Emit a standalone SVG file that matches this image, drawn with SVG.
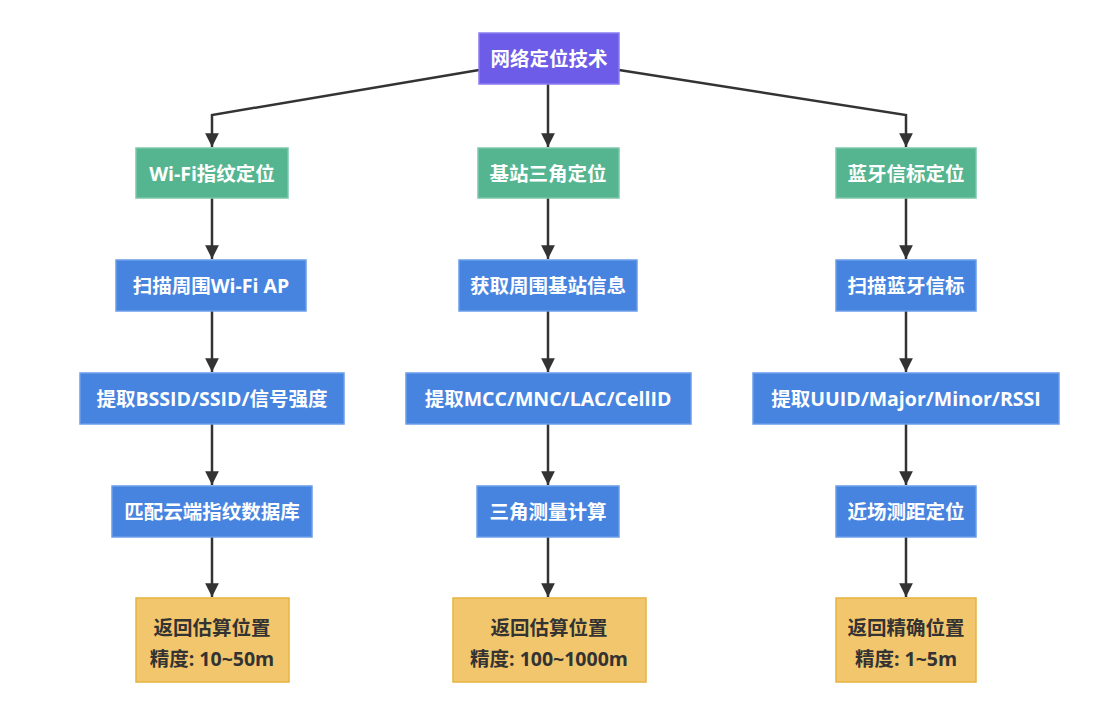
<svg xmlns="http://www.w3.org/2000/svg" width="1116" height="719" viewBox="0 0 1116 719">
<style>
.n rect{stroke-width:1.5}
.p{fill:#6c5ce7;stroke:#8a7cf0}
.g{fill:#56b591;stroke:#7cc7a9}
.b{fill:#4784e0;stroke:#6a9de8}
.o{fill:#f2c66c;stroke:#e5b43f}
text{font-family:"Open Sans","Noto Sans CJK SC",sans-serif;font-weight:bold;font-size:19.5px;text-anchor:middle;dominant-baseline:central}
.w{fill:#fff}.d{fill:#333}
.c path{fill:none;stroke:#333;stroke-width:2.5}
</style>
<defs><marker id="a" viewBox="0 0 10 10" refX="10" refY="5" markerWidth="5.5" markerHeight="5.5" orient="auto"><path d="M0,0L10,5L0,10z" fill="#333"/></marker></defs>
<rect width="1116" height="719" fill="#fff"/>
<g class="c">
<path d="M479,70L212,115L212,147" marker-end="url(#a)"/>
<path d="M548,84L548,147" marker-end="url(#a)"/>
<path d="M619,70L906,115L906,147" marker-end="url(#a)"/>
<path d="M212,198V259" marker-end="url(#a)"/><path d="M212,311V372" marker-end="url(#a)"/><path d="M212,424V485" marker-end="url(#a)"/><path d="M212,537V597" marker-end="url(#a)"/>
<path d="M548,198V259" marker-end="url(#a)"/><path d="M548,311V372" marker-end="url(#a)"/><path d="M548,424V485" marker-end="url(#a)"/><path d="M548,537V597" marker-end="url(#a)"/>
<path d="M906,198V259" marker-end="url(#a)"/><path d="M906,311V372" marker-end="url(#a)"/><path d="M906,424V485" marker-end="url(#a)"/><path d="M906,537V597" marker-end="url(#a)"/>
</g>
<g id="root" class="n"><rect class="p" x="479" y="33" width="140" height="51"/><text class="w" x="549" y="58">网络定位技术</text></g>
<g id="wifi" class="n"><rect class="g" x="136" y="148" width="152" height="50"/><text class="w" x="212" y="173">Wi-Fi指纹定位</text></g>
<g id="cell" class="n"><rect class="g" x="478" y="148" width="141" height="50"/><text class="w" x="548" y="173">基站三角定位</text></g>
<g id="ble" class="n"><rect class="g" x="836" y="148" width="140" height="50"/><text class="w" x="906" y="173">蓝牙信标定位</text></g>
<g id="w1" class="n"><rect class="b" x="116" y="260" width="190" height="51"/><text class="w" x="211" y="285">扫描周围Wi-Fi AP</text></g>
<g id="c1" class="n"><rect class="b" x="459" y="260" width="178" height="51"/><text class="w" x="548" y="285">获取周围基站信息</text></g>
<g id="b1" class="n"><rect class="b" x="836" y="260" width="140" height="51"/><text class="w" x="906" y="285">扫描蓝牙信标</text></g>
<g id="w2" class="n"><rect class="b" x="80" y="373" width="264" height="51"/><text class="w" x="212" y="398">提取BSSID/SSID/信号强度</text></g>
<g id="c2" class="n"><rect class="b" x="406" y="373" width="285" height="51"/><text class="w" x="548" y="398">提取MCC/MNC/LAC/CellID</text></g>
<g id="b2" class="n"><rect class="b" x="753" y="373" width="306" height="51"/><text class="w" x="906" y="398">提取UUID/Major/Minor/RSSI</text></g>
<g id="w3" class="n"><rect class="b" x="112" y="486" width="200" height="51"/><text class="w" x="212" y="511">匹配云端指纹数据库</text></g>
<g id="c3" class="n"><rect class="b" x="477" y="486" width="142" height="51"/><text class="w" x="548" y="511">三角测量计算</text></g>
<g id="b3" class="n"><rect class="b" x="836" y="486" width="140" height="51"/><text class="w" x="906" y="511">近场测距定位</text></g>
<g id="w4" class="n"><rect class="o" x="136" y="598" width="153" height="84"/><text class="d" x="212" y="627">返回估算位置</text><text class="d" x="212" y="658">精度: 10~50m</text></g>
<g id="c4" class="n"><rect class="o" x="453" y="598" width="193" height="84"/><text class="d" x="549" y="627">返回估算位置</text><text class="d" x="549" y="658">精度: 100~1000m</text></g>
<g id="b4" class="n"><rect class="o" x="836" y="598" width="140" height="84"/><text class="d" x="906" y="627">返回精确位置</text><text class="d" x="906" y="658">精度: 1~5m</text></g>
</svg>
